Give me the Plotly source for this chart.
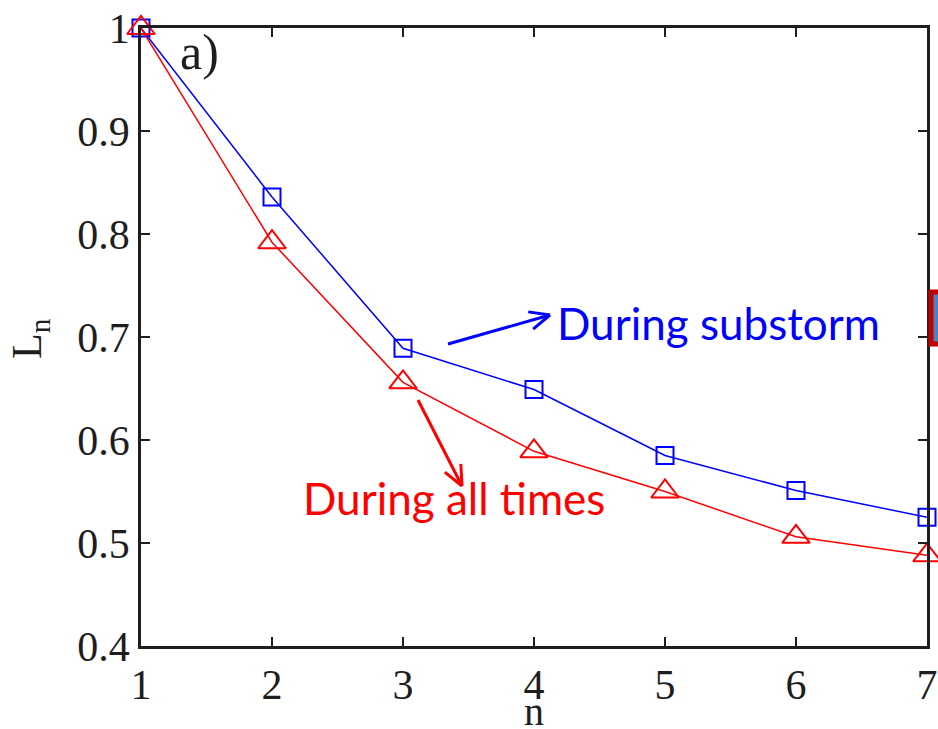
import math
import plotly.graph_objects as go

# Normalised quantity L_n versus n for the two selections
n_values = [1, 2, 3, 4, 5, 6, 7]
substorm_L = [1.0, 0.836, 0.689, 0.649, 0.585, 0.551, 0.525]
all_times_L = [1.0, 0.792, 0.656, 0.589, 0.550, 0.506, 0.488]

y_ticks = [0.4, 0.5, 0.6, 0.7, 0.8, 0.9, 1.0]
y_tick_text = ["0.4", "0.5", "0.6", "0.7", "0.8", "0.9", "1"]

W, H = 938, 729
ML, MR, MT, MB = 141, 11, 28, 83
X_RANGE = [1, 7]
Y_RANGE = [0.4, 1.0]
PW, PH = W - ML - MR, H - MT - MB
INK = "#1e1e1e"


def to_data(px, py):
    """Convert a page pixel position to data coordinates."""
    x = X_RANGE[0] + (px - ML) / PW * (X_RANGE[1] - X_RANGE[0])
    y = Y_RANGE[0] + (H - MB - py) / PH * (Y_RANGE[1] - Y_RANGE[0])
    return x, y


def to_paper(px, py):
    """Convert a page pixel position to paper coordinates."""
    return (px - ML) / PW, (H - MB - py) / PH


def arrow_shapes(tail, head, color, head_len=22, spread=0.42, width=3):
    """Straight arrow with an open V head, built in pixel space."""
    (tx, ty), (hx, hy) = tail, head
    ang = math.atan2(hy - ty, hx - tx)
    segs = [(tail, head)]
    for s in (spread, -spread):
        bx = hx - head_len * math.cos(ang + s)
        by = hy - head_len * math.sin(ang + s)
        segs.append(((bx, by), head))
    shapes = []
    for a, b in segs:
        x0, y0 = to_data(*a)
        x1, y1 = to_data(*b)
        shapes.append(dict(type="line", xref="x", yref="y", x0=x0, y0=y0, x1=x1, y1=y1,
                           line=dict(color=color, width=width)))
    return shapes


fig = go.Figure()

fig.add_trace(go.Scatter(
    x=n_values, y=substorm_L, mode="lines+markers", cliponaxis=False,
    line=dict(color="#0000ff", width=1.5),
    marker=dict(symbol="square-open", size=17, color="#0000ff", line=dict(width=2)),
    showlegend=False,
))
fig.add_trace(go.Scatter(
    x=n_values, y=all_times_L, mode="lines+markers", cliponaxis=False,
    line=dict(color="#ff0000", width=1.5),
    marker=dict(symbol="triangle-up-open", size=24, color="#ff0000", line=dict(width=2)),
    showlegend=False,
))

shapes = []
shapes += arrow_shapes((448, 344), (550, 315), "#0000ff")
shapes += arrow_shapes((418, 400), (462, 486), "#ff0000")
# small framed box at the right edge
bx0, by0 = to_paper(931, 344)
bx1, by1 = to_paper(948, 292)
shapes.append(dict(type="rect", xref="paper", yref="paper",
                   x0=bx0, x1=bx1, y0=by0, y1=by1,
                   fillcolor="#4f81bd", line=dict(color="#c00000", width=5)))

fig.update_layout(
    width=W, height=H,
    margin=dict(l=ML, r=MR, t=MT, b=MB, autoexpand=False),
    paper_bgcolor="white", plot_bgcolor="white",
    shapes=shapes,
    font=dict(family="Liberation Serif", color=INK),
)

fig.update_xaxes(
    range=X_RANGE, tickvals=n_values, ticks="inside", ticklen=9, tickwidth=2,
    tickcolor=INK, showline=True, linecolor=INK, linewidth=2.5,
    mirror="ticks", showgrid=False, zeroline=False, automargin=False,
    tickfont=dict(family="Liberation Serif", size=42, color=INK),
)
fig.update_yaxes(
    range=Y_RANGE, tickvals=y_ticks, ticktext=y_tick_text, ticks="inside", ticklen=9,
    tickwidth=2, tickcolor=INK, showline=True, linecolor=INK, linewidth=2.5,
    mirror="ticks", showgrid=False, zeroline=False, automargin=False,
    tickfont=dict(family="Liberation Serif", size=42, color=INK),
)

# axis titles
tx, ty = to_paper(534, 711)
fig.add_annotation(x=tx, y=ty, xref="paper", yref="paper", text="n",
                   xanchor="center", yanchor="middle", showarrow=False,
                   font=dict(family="Liberation Serif", size=40, color=INK))
tx, ty = to_paper(30, 338)
fig.add_annotation(x=tx, y=ty, xref="paper", yref="paper", text="L<sub>n</sub>",
                   xanchor="center", yanchor="middle", textangle=-90, showarrow=False,
                   font=dict(family="Liberation Serif", size=42, color=INK))

ax_label_x, ax_label_y = to_data(199, 52)
fig.add_annotation(x=ax_label_x, y=ax_label_y, xref="x", yref="y", text="a)",
                   showarrow=False, font=dict(family="Liberation Serif", size=50, color=INK))

sx, sy = to_data(718, 323)
fig.add_annotation(x=sx, y=sy, xref="x", yref="y", text="During substorm",
                   showarrow=False, font=dict(family="Lato", size=44, color="#0000ff"))
ax_, ay_ = to_data(454, 498)
fig.add_annotation(x=ax_, y=ay_, xref="x", yref="y", text="During all times",
                   showarrow=False, font=dict(family="Lato", size=44, color="#ff0000"))

fig.write_html("out.html")
